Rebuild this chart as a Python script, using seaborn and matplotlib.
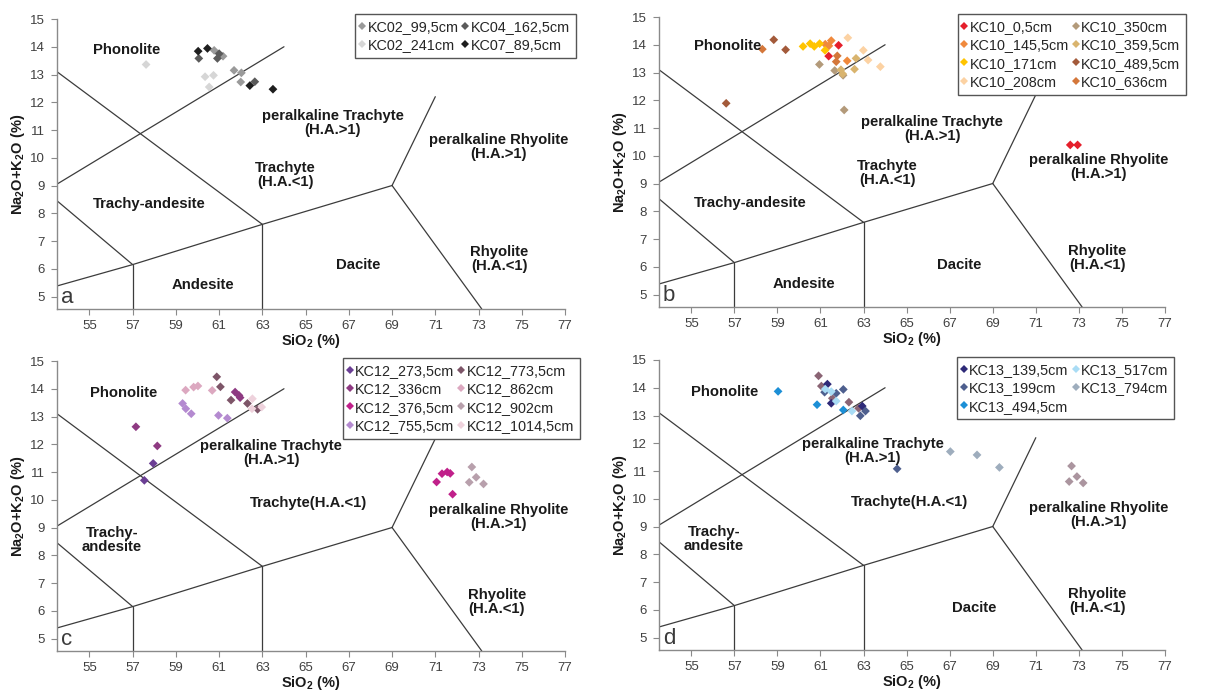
import numpy as np
import pandas as pd
import matplotlib
matplotlib.use("Agg")
import matplotlib.pyplot as plt
import seaborn as sns

sns.set_theme(style="white")
plt.rcParams["font.family"] = ["Liberation Sans", "DejaVu Sans"]
plt.rcParams["mathtext.fontset"] = "custom"
plt.rcParams["mathtext.rm"] = "Liberation Sans"
plt.rcParams["mathtext.bf"] = "Liberation Sans:bold"

# ---------------------------------------------------------------
# Classification field boundaries (SiO2, Na2O+K2O)
# ---------------------------------------------------------------
XMIN, XMAX, YMIN, YMAX = 53.5, 77, 4.55, 15
bound_lower = ([XMIN, 57.0, 63.0, 69.0], [5.38, 6.15, 7.6, 9.0])
bound_trachyand = ([XMIN, 57.0], [8.45, 6.15])
bound_trachyte = ([XMIN, 63.0], [13.1, 7.6])
bound_phonolite = ([XMIN, 64.0], [9.05, 14.0])
bound_v57 = ([57.0, 57.0], [6.15, YMIN])
bound_v63 = ([63.0, 63.0], [7.6, YMIN])
bound_rhy_low = ([69.0, 73.15], [9.0, YMIN])
bound_rhy_up = ([69.0, 71.0], [9.0, 12.2])
boundaries = [bound_lower, bound_trachyand, bound_trachyte, bound_phonolite,
              bound_v57, bound_v63, bound_rhy_low, bound_rhy_up]

# ---------------------------------------------------------------
# Panel a
# ---------------------------------------------------------------
a_sio2 = {
    "KC02_99,5cm": [60.77, 61.18, 61.69, 62.03, 62.0],
    "KC02_241cm": [57.62, 60.35, 60.74, 60.54],
    "KC04_162,5cm": [60.06, 61.0, 60.92, 62.65],
    "KC07_89,5cm": [60.03, 60.46, 62.42, 63.49],
}
a_alk = {
    "KC02_99,5cm": [13.87, 13.66, 13.15, 13.06, 12.73],
    "KC02_241cm": [13.36, 12.92, 12.97, 12.55],
    "KC04_162,5cm": [13.58, 13.75, 13.58, 12.74],
    "KC07_89,5cm": [13.84, 13.94, 12.60, 12.47],
}
a_colors = {"KC02_99,5cm": "#9a9a9a", "KC02_241cm": "#d6d6d6",
            "KC04_162,5cm": "#5a5a5a", "KC07_89,5cm": "#1e1e1e"}

# ---------------------------------------------------------------
# Panel b
# ---------------------------------------------------------------
b_sio2 = {
    "KC10_0,5cm": [61.84, 61.38, 72.6, 72.94],
    "KC10_145,5cm": [61.22, 61.5, 61.39, 62.24],
    "KC10_171cm": [60.19, 60.52, 60.71, 60.96, 61.21],
    "KC10_208cm": [62.27, 62.99, 63.21, 63.78],
    "KC10_350cm": [60.95, 61.66, 62.05, 62.1],
    "KC10_359,5cm": [62.65, 62.58, 62.03, 61.95],
    "KC10_489,5cm": [58.83, 59.38, 56.62],
    "KC10_636cm": [58.3, 61.78, 61.73],
}
b_alk = {
    "KC10_0,5cm": [13.98, 13.59, 10.39, 10.39],
    "KC10_145,5cm": [14.02, 14.15, 13.96, 13.42],
    "KC10_171cm": [13.94, 14.04, 13.94, 14.04, 13.8],
    "KC10_208cm": [14.25, 13.8, 13.45, 13.21],
    "KC10_350cm": [13.29, 13.07, 12.9, 11.65],
    "KC10_359,5cm": [13.51, 13.12, 12.95, 13.1],
    "KC10_489,5cm": [14.18, 13.82, 11.89],
    "KC10_636cm": [13.84, 13.6, 13.39],
}
b_colors = {"KC10_0,5cm": "#e51f2b", "KC10_145,5cm": "#f0893c",
            "KC10_171cm": "#ffc400", "KC10_208cm": "#fcd2a3",
            "KC10_350cm": "#b39a7a", "KC10_359,5cm": "#d9b46e",
            "KC10_489,5cm": "#a35a3a", "KC10_636cm": "#d4773a"}

# ---------------------------------------------------------------
# Panel c
# ---------------------------------------------------------------
c_sio2 = {
    "KC12_273,5cm": [57.54, 57.95],
    "KC12_336cm": [57.15, 58.14, 61.74, 61.92, 61.97],
    "KC12_376,5cm": [71.06, 71.31, 71.55, 71.69, 71.8],
    "KC12_755,5cm": [59.31, 59.46, 59.71, 60.97, 61.38],
    "KC12_773,5cm": [60.89, 61.06, 61.55, 62.31, 62.78],
    "KC12_862cm": [59.45, 59.82, 60.02, 60.68],
    "KC12_902cm": [72.69, 72.57, 72.89, 73.23],
    "KC12_1014,5cm": [62.54, 62.52, 62.97],
}
c_alk = {
    "KC12_273,5cm": [10.70, 11.31],
    "KC12_336cm": [12.63, 11.94, 13.88, 13.76, 13.68],
    "KC12_376,5cm": [10.64, 10.94, 11.0, 10.95, 10.2],
    "KC12_755,5cm": [13.47, 13.28, 13.1, 13.04, 12.94],
    "KC12_773,5cm": [14.43, 14.07, 13.59, 13.47, 13.26],
    "KC12_862cm": [13.95, 14.06, 14.1, 13.94],
    "KC12_902cm": [11.18, 10.63, 10.81, 10.57],
    "KC12_1014,5cm": [13.64, 13.28, 13.34],
}
c_colors = {"KC12_273,5cm": "#6b3f94", "KC12_336cm": "#8e3a82",
            "KC12_376,5cm": "#c0208a", "KC12_755,5cm": "#b48ad0",
            "KC12_773,5cm": "#7d5568", "KC12_862cm": "#dca8c0",
            "KC12_902cm": "#b8a0ac", "KC12_1014,5cm": "#eed2dc"}

# ---------------------------------------------------------------
# Panel d
# ---------------------------------------------------------------
d_sio2 = {
    "KC13_139,5cm": [61.32, 61.5, 62.94],
    "KC13_199cm": [61.19, 61.73, 62.06, 62.85, 63.09, 64.56],
    "KC13_494,5cm": [59.03, 60.84, 62.06],
    "KC13_517cm": [61.22, 61.5, 61.73, 62.46],
    "KC13_794cm": [67.03, 68.27, 69.31],
}
d_alk = {
    "KC13_139,5cm": [14.13, 13.44, 13.34],
    "KC13_199cm": [13.84, 13.8, 13.94, 12.99, 13.16, 11.08],
    "KC13_494,5cm": [13.87, 13.39, 13.2],
    "KC13_517cm": [13.95, 13.86, 13.52, 13.16],
    "KC13_794cm": [11.7, 11.58, 11.13],
}
d_colors = {"KC13_139,5cm": "#2e2a78", "KC13_199cm": "#4e5f8e",
            "KC13_494,5cm": "#1c8fd6", "KC13_517cm": "#a9dcf5",
            "KC13_794cm": "#9eadbd"}
# samples drawn in panel d but not listed in its legend
d_extra_sio2 = {"d_x1": [60.91, 61.04, 61.55, 62.32, 62.77],
                "d_x2": [72.66, 72.91, 72.55, 73.2]}
d_extra_alk = {"d_x1": [14.43, 14.06, 13.62, 13.48, 13.26],
               "d_x2": [11.18, 10.8, 10.62, 10.57]}
d_extra_colors = {"d_x1": "#8a6474", "d_x2": "#ab959f"}

# region labels: (text, SiO2, Na2O+K2O)
a_labels = [("Phonolite", 56.72, 13.87), ("peralkaline Trachyte\n(H.A.>1)", 66.26, 11.24),
            ("Trachyte\n(H.A.<1)", 64.05, 9.38), ("peralkaline Rhyolite\n(H.A.>1)", 73.92, 10.4),
            ("Trachy-andesite", 57.77, 8.33), ("Dacite", 67.42, 6.13),
            ("Rhyolite\n(H.A.<1)", 73.95, 6.34), ("Andesite", 60.23, 5.43)]
b_labels = [("Phonolite", 56.71, 13.94), ("peralkaline Trachyte\n(H.A.>1)", 66.18, 10.95),
            ("Trachyte\n(H.A.<1)", 64.1, 9.37), ("peralkaline Rhyolite\n(H.A.>1)", 73.9, 9.61),
            ("Trachy-andesite", 57.76, 8.3), ("Dacite", 67.42, 6.08),
            ("Rhyolite\n(H.A.<1)", 73.85, 6.3), ("Andesite", 60.23, 5.39)]
c_labels = [("Phonolite", 56.58, 13.86), ("peralkaline Trachyte\n(H.A.>1)", 63.4, 11.7),
            ("Trachyte(H.A.<1)", 65.12, 9.88), ("peralkaline Rhyolite\n(H.A.>1)", 73.94, 9.38),
            ("Trachy-\nandesite", 56.05, 8.56), ("Rhyolite\n(H.A.<1)", 73.85, 6.3)]
d_labels = [("Phonolite", 56.55, 13.86), ("peralkaline Trachyte\n(H.A.>1)", 63.43, 11.72),
            ("Trachyte(H.A.<1)", 65.13, 9.88), ("peralkaline Rhyolite\n(H.A.>1)", 73.9, 9.4),
            ("Trachy-\nandesite", 56.06, 8.56), ("Dacite", 68.15, 6.07),
            ("Rhyolite\n(H.A.<1)", 73.85, 6.3)]

W, H = 1223, 691
fig = plt.figure(figsize=(W / 100, H / 100), dpi=100)


def px_axes(left, top, right, bottom):
    return fig.add_axes([left / W, 1 - bottom / H, (right - left) / W, (bottom - top) / H])


def to_frame(sio2, alk):
    rows = [(s, x, y) for s in sio2 for x, y in zip(sio2[s], alk[s])]
    return pd.DataFrame(rows, columns=["sample", "SiO2", "alk"])


def draw_panel(ax, sio2, alk, colors, labels, letter, legend_anchor,
               extra=None):
    for xs, ys in boundaries:
        ax.plot(xs, ys, color="#3c3c3c", lw=0.9, zorder=2)
    if extra is not None:
        ex_sio2, ex_alk, ex_colors = extra
        sns.scatterplot(data=to_frame(ex_sio2, ex_alk), x="SiO2", y="alk",
                        hue="sample", palette=ex_colors, marker="D", s=20,
                        linewidth=0, ax=ax, legend=False, zorder=3)
    sns.scatterplot(data=to_frame(sio2, alk), x="SiO2", y="alk", hue="sample",
                    hue_order=list(sio2), palette=colors, marker="D", s=20,
                    linewidth=0, ax=ax, zorder=4)
    sns.move_legend(ax, "upper left", bbox_to_anchor=legend_anchor, ncol=2,
                    title=None, frameon=True, fancybox=False, fontsize=10.4,
                    handletextpad=0.3, handlelength=0.15, columnspacing=0.4,
                    labelspacing=0.3, borderpad=0.4, borderaxespad=0,
                    markerscale=0.9, edgecolor="#555555", framealpha=1)
    ax.get_legend().get_frame().set_linewidth(1.0)

    for txt, x, y in labels:
        ax.text(x, y, txt, ha="center", va="center", multialignment="center",
                fontsize=10.7, fontweight="bold", color="#1a1a1a",
                linespacing=1.0, zorder=5)
    ax.text(0.008, 0.004, letter, transform=ax.transAxes, ha="left",
            va="bottom", fontsize=16, color="#3a3a3a")

    ax.set_xlim(XMIN, XMAX)
    ax.set_ylim(YMIN, YMAX)
    ax.set_xticks(np.arange(55, 78, 2))
    ax.set_yticks(np.arange(5, 16, 1))
    for side in ["top", "right"]:
        ax.spines[side].set_visible(False)
    for side in ["left", "bottom"]:
        ax.spines[side].set_color("#8a8a8a")
        ax.spines[side].set_linewidth(1.0)
    ax.tick_params(bottom=True, left=True, direction="out", length=4,
                   width=0.8, color="#8a8a8a", labelsize=9.5,
                   labelcolor="#404040")
    ax.tick_params(axis="x", pad=4)
    ax.tick_params(axis="y", pad=5)
    ax.set_xlabel(r"SiO$_\mathbf{2}$ (%)", fontsize=10.5, fontweight="bold",
                  color="#1a1a1a", labelpad=0)
    ax.set_ylabel(r"Na$_\mathbf{2}$O+K$_\mathbf{2}$O (%)", fontsize=10.5,
                  fontweight="bold", color="#1a1a1a", labelpad=2)


ax_a = px_axes(57, 19, 565, 309)
ax_b = px_axes(659, 17, 1165, 307)
ax_c = px_axes(57, 361, 565, 651)
ax_d = px_axes(659, 360, 1165, 650)

# legend anchors (upper-left corner, axes fraction)
draw_panel(ax_a, a_sio2, a_alk, a_colors, a_labels, "a", (0.587, 1.017))
draw_panel(ax_b, b_sio2, b_alk, b_colors, b_labels, "b", (0.590, 1.01))
draw_panel(ax_c, c_sio2, c_alk, c_colors, c_labels, "c", (0.563, 1.01))
draw_panel(ax_d, d_sio2, d_alk, d_colors, d_labels, "d", (0.589, 1.01),
           extra=(d_extra_sio2, d_extra_alk, d_extra_colors))

fig.savefig("out.png", dpi=100)
